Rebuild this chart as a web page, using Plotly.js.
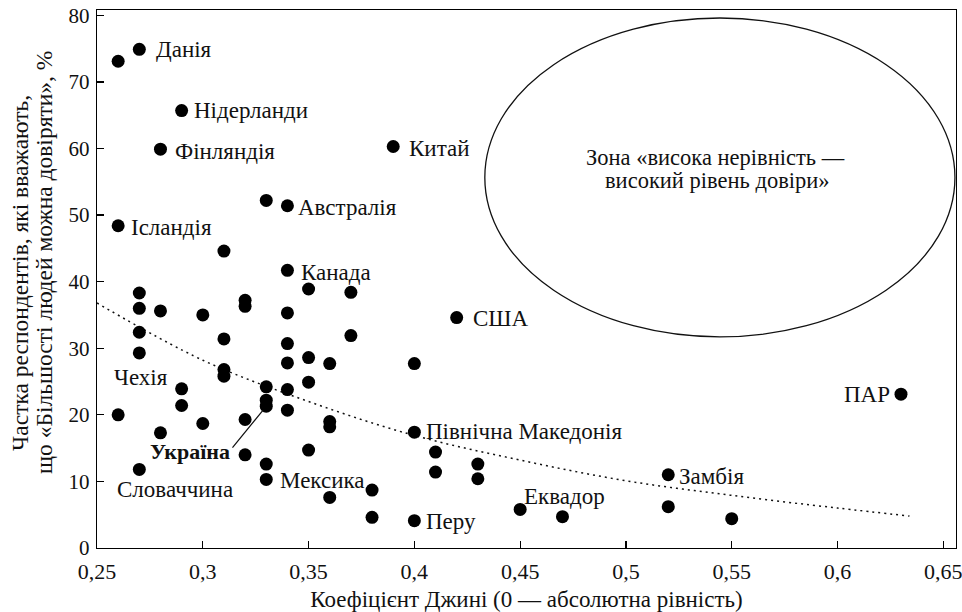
<!DOCTYPE html>
<html>
<head>
<meta charset="utf-8">
<script src="https://cdn.plot.ly/plotly-3.0.1.min.js"></script>
<style>html,body{margin:0;padding:0;background:#fff;}#chart{width:962px;height:612px;}</style>
</head>
<body>
<div id="chart"></div>
<script>
// ---- data ----
const gini = [0.26, 0.27, 0.29, 0.28, 0.39, 0.33, 0.34, 0.26, 0.31, 0.34,
              0.27, 0.35, 0.37, 0.32, 0.32, 0.27, 0.28, 0.30, 0.34, 0.42,
              0.27, 0.37, 0.31, 0.34, 0.27, 0.35, 0.34, 0.36, 0.40, 0.31,
              0.31, 0.35, 0.33, 0.29, 0.34, 0.33, 0.33, 0.29, 0.34, 0.26,
              0.32, 0.36, 0.36, 0.30, 0.28, 0.40, 0.35, 0.41, 0.32, 0.33,
              0.43, 0.27, 0.41, 0.52, 0.33, 0.43, 0.38, 0.36, 0.52, 0.45,
              0.38, 0.47, 0.55, 0.40, 0.63];
const trust = [73.1, 74.9, 65.7, 59.9, 60.3, 52.2, 51.4, 48.4, 44.6, 41.7,
               38.3, 38.9, 38.4, 37.2, 36.3, 36.0, 35.6, 35.0, 35.3, 34.6,
               32.4, 31.9, 31.4, 30.7, 29.3, 28.6, 27.8, 27.7, 27.7, 26.8,
               25.8, 24.9, 24.2, 23.9, 23.8, 22.2, 21.3, 21.4, 20.7, 20.0,
               19.3, 19.0, 18.2, 18.7, 17.3, 17.4, 14.7, 14.4, 14.0, 12.6,
               12.6, 11.8, 11.4, 11.0, 10.3, 10.4, 8.7, 7.6, 6.2, 5.8,
               4.6, 4.7, 4.4, 4.1, 23.1];
const country = ['', 'Данія', 'Нідерланди', 'Фінляндія', 'Китай', '', 'Австралія', 'Ісландія', '', 'Канада',
                 '', '', '', '', '', '', '', '', '', 'США',
                 '', '', '', '', 'Чехія', '', '', '', '', '',
                 '', '', '', '', '', '', 'Україна', '', '', '',
                 '', '', '', '', '', 'Північна Македонія', '', '', '', '',
                 '', 'Словаччина', '', 'Замбія', '', '', 'Мексика', '', '', 'Еквадор',
                 '', '', '', 'Перу', 'ПАР'];
// dotted trend curve
const trendGini  = [0.25, 0.30, 0.35, 0.40, 0.45, 0.50, 0.55, 0.60, 0.634];
const trendTrust = [36.8, 28.2, 22.0, 16.9, 13.2, 10.1, 7.9, 6.0, 4.8];
const xTickVals  = [0.25, 0.3, 0.35, 0.4, 0.45, 0.5, 0.55, 0.6, 0.65];
const xTickText  = ['0,25', '0,3', '0,35', '0,4', '0,45', '0,5', '0,55', '0,6', '0,65'];
const yTickVals  = [0, 10, 20, 30, 40, 50, 60, 70, 80];
const yTickText  = ['0', '10', '20', '30', '40', '50', '60', '70', '80'];

// ---- styling ----
const FONT = '"Liberation Serif", "DejaVu Serif", serif';
const INK = '#111';
const LABEL_SIZE = 23;
const labelPlacement = {
  'Данія':      {xanchor: 'left', xshift: 15, yshift: 0},
  'Нідерланди': {xanchor: 'left', xshift: 10, yshift: 0},
  'Фінляндія':  {xanchor: 'left', xshift: 13, yshift: -2},
  'Китай':      {xanchor: 'left', xshift: 14, yshift: -2},
  'Австралія':  {xanchor: 'left', xshift: 9, yshift: -2},
  'Ісландія':   {xanchor: 'left', xshift: 11, yshift: -2},
  'Канада':     {xanchor: 'left', xshift: 12, yshift: -2},
  'США':        {xanchor: 'left', xshift: 14, yshift: -1},
  'Чехія':      {xanchor: 'center', xshift: 2, yshift: -25},
  'Словаччина': {xanchor: 'center', xshift: 36, yshift: -20},
  'Північна Македонія': {xanchor: 'left', xshift: 10, yshift: 1},
  'Мексика':    {xanchor: 'right', xshift: -5, yshift: 10},
  'Перу':       {xanchor: 'left', xshift: 10, yshift: -1},
  'Еквадор':    {xanchor: 'left', xshift: 2, yshift: 13},
  'Замбія':     {xanchor: 'left', xshift: 9, yshift: -2},
  'ПАР':        {xanchor: 'right', xshift: -9, yshift: 0},
  'Україна':    {xanchor: 'right', xshift: -34, yshift: -45, bold: true, leader: {ax: -35, ay: 43}}
};

const annotations = [];
country.forEach((name, i) => {
  if (!name) return;
  const p = labelPlacement[name];
  annotations.push({
    x: gini[i], y: trust[i], xref: 'x', yref: 'y',
    text: p.bold ? '<b>' + name + '</b>' : name,
    showarrow: false, xanchor: p.xanchor, yanchor: 'middle',
    xshift: p.xshift, yshift: p.yshift,
    font: {family: FONT, size: p.bold ? 22 : LABEL_SIZE, color: INK}
  });
  if (p.leader) {
    annotations.push({
      x: gini[i], y: trust[i], xref: 'x', yref: 'y',
      text: '', showarrow: true, arrowhead: 0, arrowwidth: 1.2, arrowcolor: INK,
      ax: p.leader.ax, ay: p.leader.ay, standoff: 5, startstandoff: 0
    });
  }
});

// ellipse caption
annotations.push({
  x: 0.5444, y: 55.65, xref: 'x', yref: 'y', yshift: 20, xshift: -4,
  text: 'Зона «висока нерівність —', showarrow: false,
  font: {family: FONT, size: 22.5, color: INK}
});
annotations.push({
  x: 0.5444, y: 55.65, xref: 'x', yref: 'y', yshift: -3, xshift: -2,
  text: 'високий рівень довіри»', showarrow: false,
  font: {family: FONT, size: 22.5, color: INK}
});
// y-axis title (two lines)
annotations.push({
  xref: 'paper', yref: 'paper', x: 0, y: 0.5, xshift: -77, yshift: 6,
  textangle: -90, text: 'Частка респондентів, які вважають,', showarrow: false,
  xanchor: 'center', yanchor: 'middle',
  font: {family: FONT, size: 23.5, color: INK}
});
annotations.push({
  xref: 'paper', yref: 'paper', x: 0, y: 0.5, xshift: -53, yshift: 16,
  textangle: -90, text: 'що «Більшості людей можна довіряти», %', showarrow: false,
  xanchor: 'center', yanchor: 'middle',
  font: {family: FONT, size: 23.5, color: INK}
});

const traces = [
  {
    x: trendGini, y: trendTrust, type: 'scatter', mode: 'lines',
    line: {color: INK, width: 1.5, dash: '2px,4px', shape: 'spline'},
    hoverinfo: 'skip', showlegend: false
  },
  {
    x: gini, y: trust, text: country, type: 'scatter', mode: 'markers',
    marker: {color: '#000', size: 13, line: {width: 0}},
    showlegend: false, cliponaxis: false
  }
];

const axisCommon = {
  showline: true, mirror: true, linecolor: '#000', linewidth: 1.3,
  ticks: 'inside', ticklen: 7, tickwidth: 1.2, tickcolor: '#000',
  showgrid: false, zeroline: false
};

const layout = {
  width: 962, height: 612,
  margin: {l: 97, r: 6, t: 10, b: 64},
  paper_bgcolor: '#fff', plot_bgcolor: '#fff',
  font: {family: FONT, color: INK},
  xaxis: Object.assign({}, axisCommon, {
    range: [0.25, 0.656], tickmode: 'array', tickvals: xTickVals, ticktext: xTickText,
    ticklabelstandoff: 3, ticklabeloverflow: 'allow',
    tickfont: {family: FONT, size: 22, color: INK},
    title: {text: 'Коефіцієнт Джині (0 — абсолютна рівність)', font: {family: FONT, size: 23, color: INK}, standoff: 8}
  }),
  yaxis: Object.assign({}, axisCommon, {
    range: [0, 80.8], tickmode: 'array', tickvals: yTickVals, ticktext: yTickText,
    ticklabelstandoff: 2, ticklabeloverflow: 'allow',
    tickfont: {family: FONT, size: 21, color: INK}
  }),
  shapes: [{
    type: 'circle', xref: 'x', yref: 'y',
    x0: 0.4333, x1: 0.6555, y0: 31.7, y1: 79.6,
    line: {color: INK, width: 1.3}
  }],
  annotations: annotations,
  showlegend: false
};

Plotly.newPlot('chart', traces, layout, {staticPlot: true, displayModeBar: false});
</script>
</body>
</html>
